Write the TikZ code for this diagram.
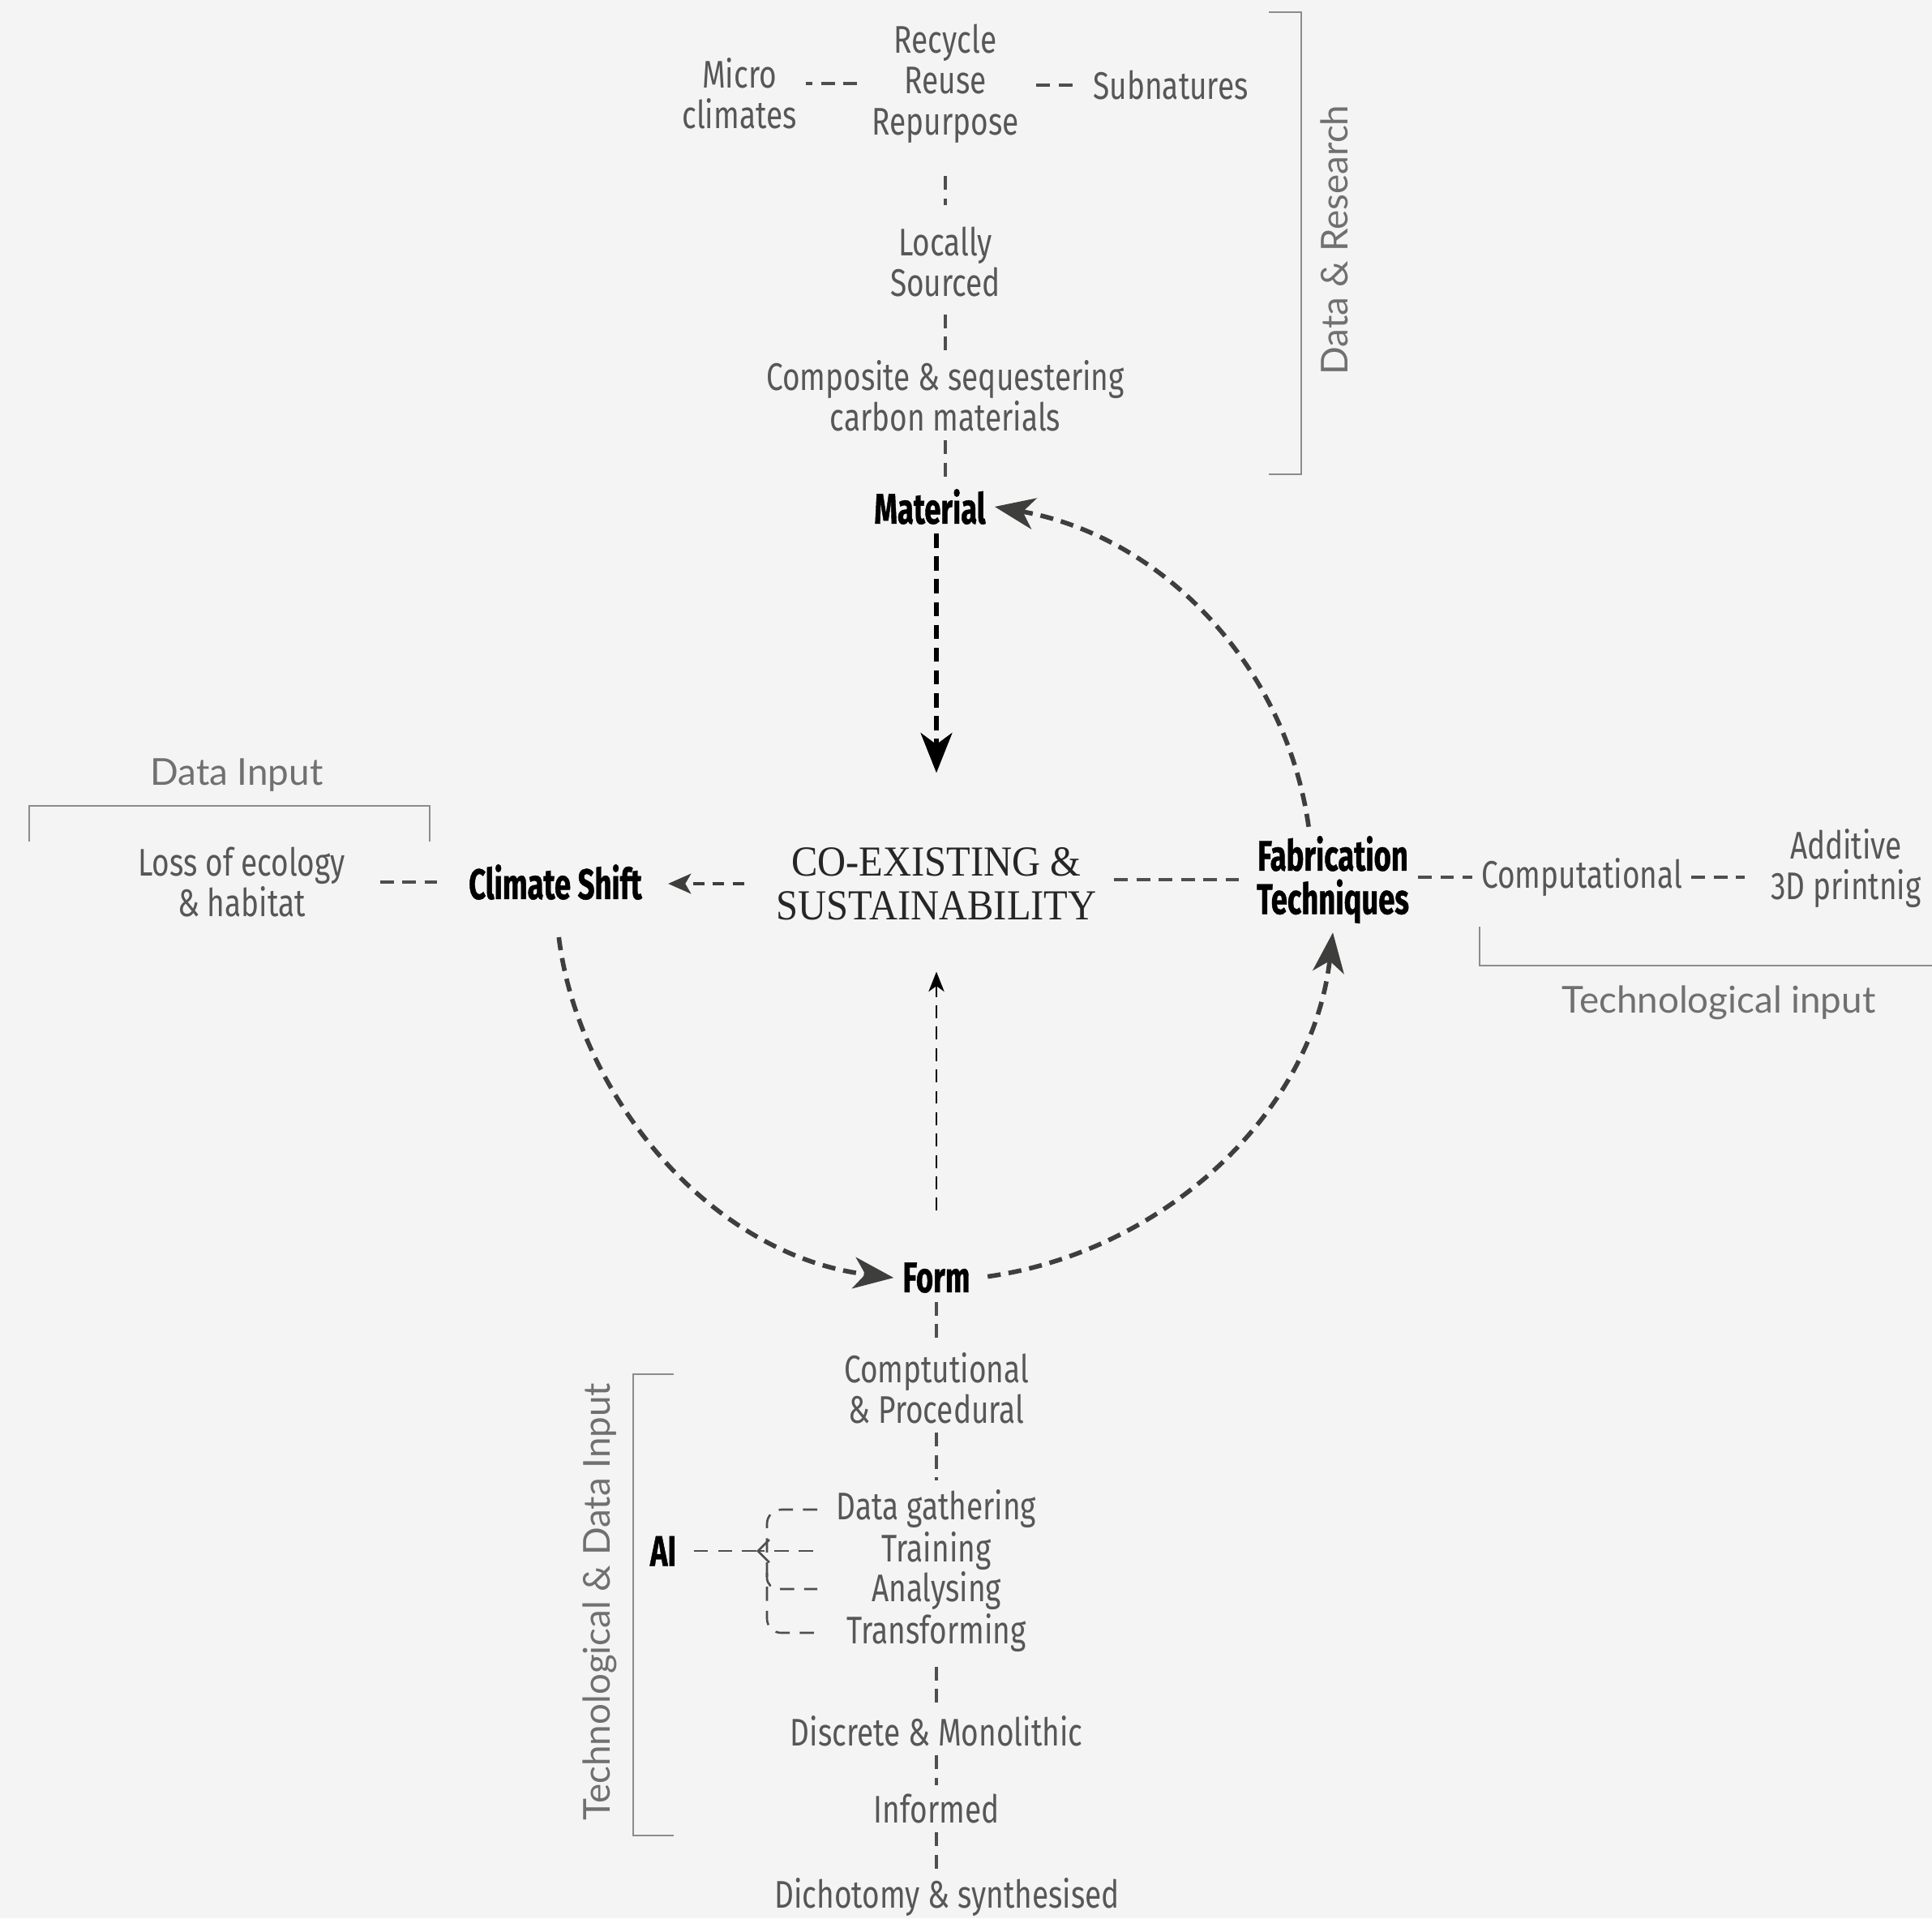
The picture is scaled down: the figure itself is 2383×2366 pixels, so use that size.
\documentclass[tikz,border=0pt]{standalone}
\usepackage{fontspec}
\usetikzlibrary{arrows.meta,calc}
\newfontfamily\dinr[FakeStretch=0.78]{Fira Sans}
\newfontfamily\dinb[FakeStretch=0.69,FakeBold=0.8]{Fira Sans}
\newfontfamily\coser[FakeStretch=0.92]{Liberation Serif}
\newfontfamily\lightf{Lato}
\definecolor{bg}{HTML}{F4F4F4}
\definecolor{txt}{HTML}{575757}
\definecolor{lab}{HTML}{707070}
\definecolor{arcc}{HTML}{3E3E3C}
\definecolor{conc}{HTML}{4E4E4E}
\definecolor{brk}{HTML}{8C8C8C}
\begin{document}
\begin{tikzpicture}[x=0.01cm,y=0.01cm,
 item/.style={font=\dinr\fontsize{13.5}{14.3}\selectfont, text=txt, align=center, inner sep=3pt},
 key/.style={font=\dinb\bfseries\fontsize{15}{15.2}\selectfont, text=black, align=center, inner sep=3pt},
 side/.style={font=\lightf\fontsize{13}{15}\selectfont, text=lab, inner sep=0pt},
 conn/.style={draw=conc, line width=1pt, dash pattern=on 4.8pt off 3pt},
 aiconn/.style={draw=conc, line width=0.75pt, dash pattern=on 5pt off 3.5pt},
 cyc/.style={draw=arcc, line width=1.6pt, dash pattern=on 4.6pt off 2.8pt, -{Stealth[length=14pt,width=11pt,inset=4pt]}, looseness=0.95},
 brack/.style={draw=brk, line width=0.6pt},
]
\fill[bg] (0,0) rectangle (2383,-2366);
\useasboundingbox (0,0) rectangle (2383,-2366);

% top column
\node[item] (micro) at (912,-115) {Micro\\climates};
\node[item] (recyc) at (1166,-103) {Recycle\\Reuse\\Repurpose};
\node[item] (subn) at (1444,-105) {Subnatures};
\node[item] (locally) at (1166,-323) {Locally\\Sourced};
\node[item] (compos) at (1166,-488) {Composite \& sequestering\\carbon materials};
\node[key] (material) at (1147,-625) {Material};
\node[side, rotate=90] (datares) at (1646,-296) {Data \& Research};

% middle row
\node[font=\coser\fontsize{15}{15.2}\selectfont, text=black!85, align=center, inner sep=3pt] (center) at (1155,-1090) {CO-EXISTING \&\\SUSTAINABILITY};
\node[key] (climate) at (685,-1088) {Climate Shift};
\node[item] (loss) at (298,-1088) {Loss of ecology\\\& habitat};
\node[side] (datain) at (292,-956) {Data Input};
\node[key] (fab) at (1644,-1085) {Fabrication\\Techniques};
\node[item] (comput) at (1951,-1082) {Computational};
\node[item] (additive) at (2277,-1071) {Additive\\3D printnig};
\node[side] (techin) at (2120,-1237) {Technological input};

% bottom column
\node[key] (form) at (1155,-1576) {Form};
\node[item] (comptut) at (1155,-1712) {Comptutional\\\& Procedural};
\node[item] (datag) at (1155,-1861) {Data gathering};
\node[item] (training) at (1155,-1913) {Training};
\node[item] (analys) at (1155,-1962) {Analysing};
\node[item] (transf) at (1155,-2014) {Transforming};
\node[key] (ai) at (818,-1913) {AI};
\node[item] (discrete) at (1155,-2135) {Discrete \& Monolithic};
\node[item] (informed) at (1155,-2231) {Informed};
\node[item] (dicho) at (1168,-2340) {Dichotomy \& synthesised};
\node[side, rotate=90] (techdata) at (740,-1976) {Technological \& Data Input};

% brackets
\draw[brack] (1565,-15) -- (1605,-15) -- (1605,-585) -- (1565,-585);
\draw[brack] (36,-1038) -- (36,-994) -- (530,-994) -- (530,-1038);
\draw[brack] (1825,-1143) -- (1825,-1191) -- (2383,-1191);
\draw[brack] (831,-1695) -- (781,-1695) -- (781,-2264) -- (831,-2264);

% top connectors
\draw[conn, shorten <=2pt] (recyc.west) -- (recyc.west -| micro.east);
\draw[conn, shorten <=3pt, shorten >=4pt] (recyc.east |- subn.west) -- (subn.west);
\draw[conn, shorten <=8.5pt, shorten >=4.3pt] (recyc.south) -- (locally.north);
\draw[conn, shorten <=3pt] (locally.south) -- (compos.north);
\draw[conn] (compos.south) -- (material.north -| compos.south);
\draw[draw=black, line width=1.8pt, dash pattern=on 5pt off 3pt, -{Stealth[length=14pt,width=11pt,inset=4pt]}, shorten >=23pt] (material.south -| center.north) -- (center.north);

% middle connectors
\draw[draw=arcc, line width=1.1pt, dash pattern=on 4pt off 3pt, -{Stealth[length=8pt,width=7pt,inset=2pt]}, shorten <=8pt, shorten >=6pt] (center.west) -- (center.west -| climate.east);
\draw[conn, shorten <=9pt, shorten >=8pt] (loss.east |- climate.west) -- (climate.west);
\draw[conn, shorten <=3pt, shorten >=3pt] (fab.west -| center.east) -- (fab.west);
\draw[conn] (fab.east |- comput.west) -- (comput.west);
\draw[conn, shorten >=6pt] (comput.east) -- (comput.east -| additive.west);
\draw[draw=black, line width=0.7pt, dash pattern=on 4.5pt off 3pt, -{Stealth[length=7pt,width=5.5pt,inset=2pt]}, shorten <=15pt, shorten >=15pt] (form.north) -- (center.south);

% cycle arcs
\draw[cyc, shorten <=10pt] (climate.south) to[out=277,in=173] (form.west);
\draw[cyc, shorten <=3pt] (form.east) to[out=8,in=263.5] (fab.south);
\draw[cyc] ([xshift=-8.5pt]fab.north) to[out=98,in=350] (material.east);

% bottom connectors
\draw[conn] (form.south) -- (comptut.north);
\draw[conn] (comptut.south) -- (datag.north);
\draw[conn, shorten <=2pt] (transf.south) -- (discrete.north);
\draw[conn] (discrete.south) -- (informed.north);
\draw[conn] (informed.south) -- (informed.south |- dicho.north);

% AI bracket
\coordinate (bt) at (1008,-1862);
\coordinate (bm) at (946,-1913);
\coordinate (bb) at (1008,-2014);
\coordinate (bv) at (946,-1940);
\coordinate (ba) at (1008,-1960);
\coordinate (tip) at (933,-1913);
\draw[aiconn, rounded corners=5pt] (bt) -| (bm) |- (bb);
\draw[aiconn, rounded corners=4pt] (bv) |- (ba);
\draw[aiconn, shorten <=21pt, -{Straight Barb[length=4pt,width=8pt]}] (training.west) -- (tip);
\draw[aiconn, shorten >=3pt] (tip) -- (ai.east);
\end{tikzpicture}
\end{document}
